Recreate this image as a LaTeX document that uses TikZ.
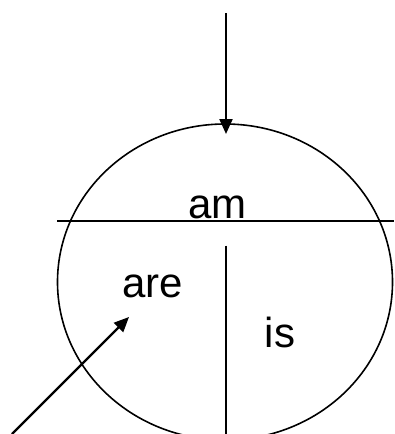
\documentclass[tikz,border=0pt]{standalone}
\usepackage{fontspec}
\setmainfont{Liberation Sans}
\usetikzlibrary{arrows.meta,shapes.geometric}
\begin{document}
\begin{tikzpicture}[x=1pt,y=-1pt,
  lbl/.style={anchor=base,inner sep=0pt,font=\fontsize{42}{48}\selectfont},
  ln/.style={line width=2.2pt},
  arr/.style={line width=2.2pt,-{Triangle[length=15pt,width=13pt]}}]
\useasboundingbox (0,0) rectangle (394,434);
\clip (0,0) rectangle (394,434);
\node[ellipse,draw,line width=1.6pt,minimum width=335pt,minimum height=316pt,inner sep=0pt] (e) at (225,282) {};
\coordinate (hl) at (57,221);
\coordinate (hr) at (394,221);
\coordinate (vt) at (226,245.5);
\coordinate (vb) at (226,434);
\coordinate (ts) at (226,13);
\coordinate (tt) at (226,134);
\coordinate (ds) at (12,434);
\coordinate (dt) at (129,317);
\draw[ln] (hl) -- (hr);
\draw[ln] (vt) -- (vb);
\draw[arr] (ts) -- (tt);
\draw[arr] (ds) -- (dt);
\node[lbl] (am) at (217.5,218) {am};
\node[lbl] (are) at (152.5,297) {are};
\node[lbl] (is) at (280,347) {is};
\end{tikzpicture}
\end{document}
